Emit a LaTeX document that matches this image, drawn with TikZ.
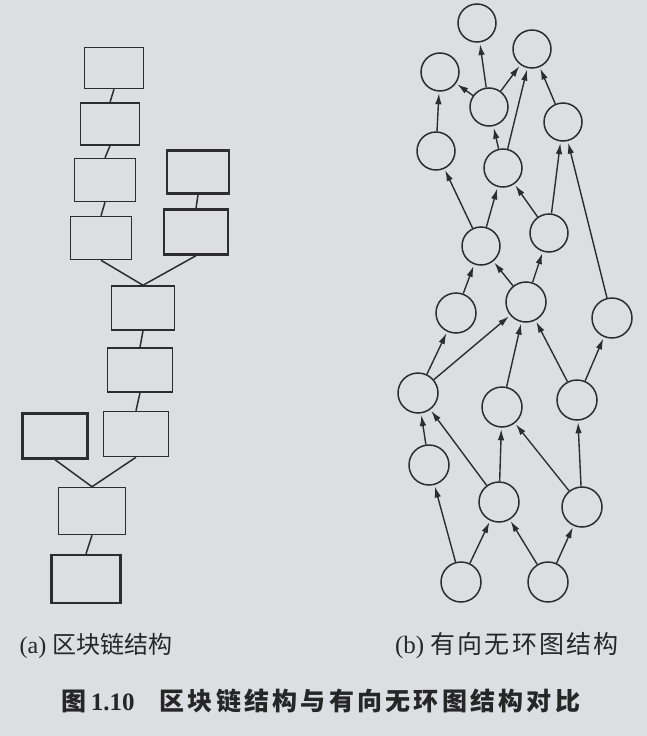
\documentclass[tikz,border=0pt]{standalone}
\usepackage{fontspec}
\setmainfont{Liberation Serif}
\newfontfamily\cjk{Noto Sans CJK SC}
\usetikzlibrary{arrows.meta}
\definecolor{paper}{RGB}{221,222,226}
\definecolor{ink}{RGB}{45,45,48}
\begin{document}
\begin{tikzpicture}[x=1pt,y=-1pt,
  blk/.style={draw=ink,line width=1.5pt,rectangle,inner sep=0pt},
  blkthick/.style={blk,line width=2.4pt},
  link/.style={draw=ink,line width=1.5pt},
  vtx/.style={draw=ink,line width=1.5pt,circle,minimum size=38pt,inner sep=0pt},
  vtxb/.style={vtx,minimum size=40pt},
  arr/.style={draw=ink,line width=1.4pt,-{Latex[length=11pt,width=6.5pt]},shorten >=1.5pt},
  lbl/.style={inner sep=0pt,text=black!85}]
\fill[paper] (0,0) rectangle (647,736);
\useasboundingbox (0,0) rectangle (647,736);
% ---- (a) blockchain ----
\node[blk,minimum width=59pt,minimum height=41pt] (b1) at (114,68) {};
\node[blk,minimum width=59pt,minimum height=42pt] (b2) at (110,124) {};
\node[blk,minimum width=61pt,minimum height=43pt] (b3) at (105,180) {};
\node[blk,minimum width=61pt,minimum height=43pt] (b4) at (101,238) {};
\node[blkthick,minimum width=62pt,minimum height=43pt] (r1) at (198,172) {};
\node[blkthick,minimum width=64pt,minimum height=45pt] (r2) at (196,232) {};
\node[blk,minimum width=63pt,minimum height=44pt] (b5) at (143,308) {};
\node[blk,minimum width=65pt,minimum height=44pt] (b6) at (140,370) {};
\node[blk,minimum width=65pt,minimum height=45pt] (b7) at (136,434) {};
\node[blkthick,minimum width=65pt,minimum height=45pt] (l1) at (55,436) {};
\node[blk,minimum width=67pt,minimum height=47pt] (b8) at (92,511) {};
\node[blkthick,minimum width=69pt,minimum height=48pt] (b9) at (86,579) {};
\draw[link] (b1.south) -- (b2.north);
\draw[link] (b2.south) -- (b3.north);
\draw[link] (b3.south) -- (b4.north);
\draw[link] (r1.south) -- (r2.north);
\draw[link] (b4.south) -- (b5.north);
\draw[link] (r2.south) -- (b5.north);
\draw[link] (b5.south) -- (b6.north);
\draw[link] (b6.south) -- (b7.north);
\draw[link] (b7.south) -- (b8.north);
\draw[link] (l1.south) -- (b8.north);
\draw[link] (b8.south) -- (b9.north);
% ---- (b) DAG ----
\node[vtx] (A) at (477,23) {};
\node[vtx] (B) at (532,49) {};
\node[vtx] (C) at (440,72) {};
\node[vtx] (D) at (489,107) {};
\node[vtx] (E) at (563,122) {};
\node[vtx] (F) at (436,151) {};
\node[vtx] (G) at (503,168) {};
\node[vtx] (H) at (549,233) {};
\node[vtx] (I) at (481,246) {};
\node[vtxb] (J) at (456,313) {};
\node[vtxb] (K) at (526,302) {};
\node[vtxb] (L) at (612,318) {};
\node[vtxb] (M) at (418,393) {};
\node[vtxb] (N) at (502,407) {};
\node[vtxb] (O) at (577,400) {};
\node[vtxb] (P) at (429,465) {};
\node[vtxb] (Q) at (499,502) {};
\node[vtxb] (R) at (582,507) {};
\node[vtxb] (S) at (461,582) {};
\node[vtxb] (T) at (548,582) {};
\foreach \s/\t in {D/A,D/C,D/B,F/C,G/D,G/B,E/B,H/E,H/G,I/F,I/G,L/E,K/I,K/H,J/I,
  M/J,M/K,N/K,O/K,O/L,P/M,Q/M,Q/N,R/N,R/O,S/P,S/Q,T/Q,T/R}
  \draw[arr] (\s) -- (\t);
% ---- labels ----
\node[lbl] (la) at (96,646) {\fontsize{24}{24}\selectfont (a) {\cjk 区块链结构}};
\node[lbl] (lb) at (507,646) {\fontsize{25}{25}\selectfont (b) {\cjk\addfontfeature{LetterSpace=9}有向无环图结构}};
\node[lbl] (cap) at (321,701) {\fontsize{25}{25}\selectfont\bfseries {\cjk 图}\,1.10\hspace{1em}{\cjk\addfontfeature{LetterSpace=13}区块链结构与有向无环图结构对比}};
\end{tikzpicture}
\end{document}
